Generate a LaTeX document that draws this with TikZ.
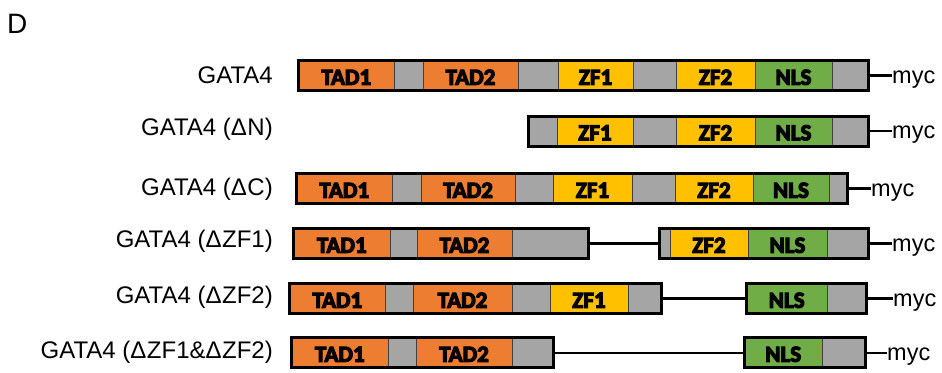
\documentclass[tikz,border=0pt]{standalone}
\usepackage{fontspec}
\setmainfont{Liberation Sans}
\newfontfamily\segfont[BoldFeatures={FakeBold=5}]{Carlito}
\definecolor{cOr}{HTML}{ED7D31}
\definecolor{cGr}{HTML}{A5A5A5}
\definecolor{cYe}{HTML}{FFC000}
\definecolor{cNl}{HTML}{70AD47}
\tikzset{
  segbox/.style={draw=black!75, line width=0.8pt, inner sep=0pt, outer sep=0pt,
     minimum height=30pt, text height=18.5pt, text depth=0pt,
     font=\segfont\bfseries\fontsize{23}{23}\selectfont},
  framebox/.style={draw=black, line width=3pt, inner sep=0pt, minimum height=30pt},
  lbl/.style={anchor=base east, inner sep=0pt, font=\fontsize{24}{28}\selectfont},
  myclbl/.style={anchor=base west, inner sep=0pt, font=\fontsize{23.5}{27}\selectfont},
  conn/.style={draw=black, line width=2.6pt}
}
% name, x1, x2, y-centre, colour, text
\newcommand\segm[6]{\node[segbox, fill=#5, minimum width={#3pt-#2pt}] (#1) at ({(#2+#3)/2},#4) {#6};}
% name, x1, x2, y-centre
\newcommand\frm[4]{\node[framebox, minimum width={#3pt-#2pt}] (#1) at ({(#2+#3)/2},#4) {};}
\begin{document}
\begin{tikzpicture}[x=1pt,y=-1pt]
\useasboundingbox (0,0) rectangle (942,372);
\node[anchor=base west, inner sep=0pt, font=\fontsize{28}{32}\selectfont] (D) at (7,33) {D};
% labels
\node[lbl] (l1) at (273,83) {GATA4};
\node[lbl] (l2) at (273,135) {GATA4 (Δ\kern0.5ptN)};
\node[lbl] (l3) at (273,195) {GATA4 (Δ\kern0.5ptC)};
\node[lbl] (l4) at (273,247) {GATA4 (Δ\kern0.5ptZF1)};
\node[lbl] (l5) at (273,303) {GATA4 (Δ\kern0.5ptZF2)};
\node[lbl] (l6) at (273,358) {GATA4 (Δ\kern0.5ptZF1\&Δ\kern0.5ptZF2)};
% row 1
\segm{a1}{298.5}{394}{75.5}{cOr}{TAD1}
\segm{a2}{394}{423}{75.5}{cGr}{}
\segm{a3}{423}{518}{75.5}{cOr}{TAD2}
\segm{a4}{518}{558}{75.5}{cGr}{}
\segm{a5}{558}{633}{75.5}{cYe}{ZF1}
\segm{a6}{633}{676}{75.5}{cGr}{}
\segm{a7}{676}{755}{75.5}{cYe}{ZF2}
\segm{a8}{755}{832}{75.5}{cNl}{NLS}
\segm{a9}{832}{868.5}{75.5}{cGr}{}
\frm{r1f}{298.5}{868.5}{75.5}
\node[myclbl] (m1) at (892,83) {myc};
\draw[conn] (r1f.east) -- (r1f.east -| m1.west);
% row 2
\segm{b4}{528.5}{557}{131}{cGr}{}
\segm{b5}{557}{633}{131}{cYe}{ZF1}
\segm{b6}{633}{676}{131}{cGr}{}
\segm{b7}{676}{755}{131}{cYe}{ZF2}
\segm{b8}{755}{832}{131}{cNl}{NLS}
\segm{b9}{832}{868.5}{131}{cGr}{}
\frm{r2f}{528.5}{868.5}{131}
\node[myclbl] (m2) at (892,138.5) {myc};
\draw[conn] (r2f.east) -- (r2f.east -| m2.west);
% row 3
\segm{c1}{296.5}{392}{188.5}{cOr}{TAD1}
\segm{c2}{392}{421}{188.5}{cGr}{}
\segm{c3}{421}{515}{188.5}{cOr}{TAD2}
\segm{c4}{515}{553}{188.5}{cGr}{}
\segm{c5}{553}{632}{188.5}{cYe}{ZF1}
\segm{c6}{632}{675}{188.5}{cGr}{}
\segm{c7}{675}{753}{188.5}{cYe}{ZF2}
\segm{c8}{753}{829}{188.5}{cNl}{NLS}
\segm{c9}{829}{847.5}{188.5}{cGr}{}
\frm{r3f}{296.5}{847.5}{188.5}
\node[myclbl] (m3) at (871,196) {myc};
\draw[conn] (r3f.east) -- (r3f.east -| m3.west);
% row 4
\segm{d1}{293.5}{390}{243.5}{cOr}{TAD1}
\segm{d2}{390}{417}{243.5}{cGr}{}
\segm{d3}{417}{512}{243.5}{cOr}{TAD2}
\segm{d4}{512}{588}{243.5}{cGr}{}
\frm{r4a}{293.5}{588}{243.5}
\segm{d6}{659.5}{670}{243.5}{cGr}{}
\segm{d7}{670}{748}{243.5}{cYe}{ZF2}
\segm{d8}{748}{827}{243.5}{cNl}{NLS}
\segm{d9}{827}{868.5}{243.5}{cGr}{}
\frm{r4b}{659.5}{868.5}{243.5}
\draw[conn] (r4a.east) -- (r4b.west);
\node[myclbl] (m4) at (892,251) {myc};
\draw[conn] (r4b.east) -- (r4b.east -| m4.west);
% row 5
\segm{e1}{289.5}{385}{298.5}{cOr}{TAD1}
\segm{e2}{385}{413}{298.5}{cGr}{}
\segm{e3}{413}{512}{298.5}{cOr}{TAD2}
\segm{e4}{512}{550}{298.5}{cGr}{}
\segm{e5}{550}{628}{298.5}{cYe}{ZF1}
\segm{e6}{628}{661.5}{298.5}{cGr}{}
\frm{r5a}{289.5}{661.5}{298.5}
\segm{e8}{746.5}{827}{298.5}{cNl}{NLS}
\segm{e9}{827}{866.5}{298.5}{cGr}{}
\frm{r5b}{746.5}{866.5}{298.5}
\draw[conn] (r5a.east) -- (r5b.west);
\node[myclbl] (m5) at (893,306) {myc};
\draw[conn] (r5b.east) -- (r5b.east -| m5.west);
% row 6
\segm{f1}{291.5}{388}{352.5}{cOr}{TAD1}
\segm{f2}{388}{416}{352.5}{cGr}{}
\segm{f3}{416}{512}{352.5}{cOr}{TAD2}
\segm{f4}{512}{553.5}{352.5}{cGr}{}
\frm{r6a}{291.5}{553.5}{352.5}
\segm{f8}{744.5}{822}{352.5}{cNl}{NLS}
\segm{f9}{822}{865.5}{352.5}{cGr}{}
\frm{r6b}{744.5}{865.5}{352.5}
\draw[conn, line width=2pt] (r6a.east) -- (r6b.west);
\node[myclbl] (m6) at (887,360) {myc};
\draw[conn, line width=2pt] (r6b.east) -- (r6b.east -| m6.west);
\end{tikzpicture}
\end{document}
